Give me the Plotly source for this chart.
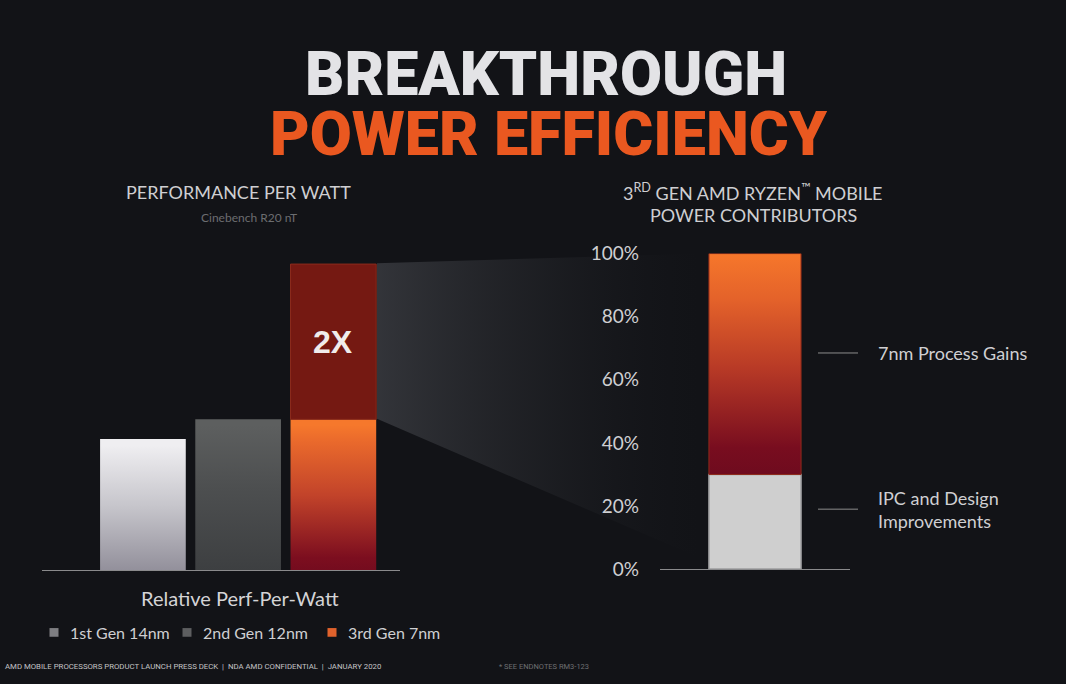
import plotly.graph_objects as go

W, H = 1066, 684

# ---------------- data ----------------
generations = ["1st Gen 14nm", "2nd Gen 12nm", "3rd Gen 7nm"]
perf_per_watt = [0.87, 1.00, 2.03]          # relative perf-per-watt
gen3_base = 1.00                             # orange part of 3rd gen bar (= 2nd gen level)
uplift_label = "2X"

contrib_names = ["IPC and Design<br>Improvements", "7nm Process Gains"]
contrib_values = [30, 70]                    # % of power-efficiency gain
contrib_label_pos = [19, 68.5]               # label heights on the % axis
pct_ticks = [0, 20, 40, 60, 80, 100]
pct_ticktext = ["0%", "20%", "40%", "60%", "80%", "100%"]

BODY = "Lato"
TITLE = "Roboto"
TXT = "#cfcfd2"


def px_x(p):
    return p / W


def px_y(p):
    return 1 - p / H


fig = go.Figure()

# ---------- decoration layer (first subplot, drawn beneath the charts) ----------
fig.add_trace(go.Scatter(
    x=[377, 700, 700, 377, 377], y=[260, 250, 565, 421, 260],
    xaxis="x", yaxis="y", mode="lines", line=dict(width=0),
    fill="toself",
    fillgradient=dict(type="horizontal", start=377, stop=700,
                      colorscale=[[0, "rgba(78,80,86,0.55)"],
                                  [0.5, "rgba(55,57,62,0.30)"],
                                  [1, "rgba(30,32,36,0.0)"]]),
    hoverinfo="skip", showlegend=False))

# ---------- left chart : relative perf-per-watt ----------
half = 0.45
grad = {
    0: [[0, "#8a8793"], [0.55, "#c6c5cb"], [1, "#efeef1"]],
    1: [[0, "#3b3d3f"], [0.6, "#4d4f50"], [1, "#5d5f5f"]],
}
for i in (0, 1):
    v = perf_per_watt[i]
    fig.add_trace(go.Scatter(
        x=[i - half, i + half, i + half, i - half, i - half],
        y=[0, 0, v, v, 0], xaxis="x2", yaxis="y2", mode="lines",
        line=dict(width=0), fill="toself",
        fillgradient=dict(type="vertical", start=0, stop=v, colorscale=grad[i]),
        name=generations[i], hoverinfo="name", showlegend=False))

# 3rd gen: orange base + dark red uplift
fig.add_trace(go.Scatter(
    x=[2 - half, 2 + half, 2 + half, 2 - half, 2 - half],
    y=[0, 0, gen3_base, gen3_base, 0], xaxis="x2", yaxis="y2", mode="lines",
    line=dict(width=0), fill="toself",
    fillgradient=dict(type="vertical", start=0, stop=gen3_base,
                      colorscale=[[0, "#6e0a1e"], [0.15, "#7c0e1f"],
                                  [0.55, "#c2432a"], [0.9, "#ea6a2c"], [1, "#f6782c"]]),
    name=generations[2], hoverinfo="name", showlegend=False))
v3 = perf_per_watt[2]
fig.add_trace(go.Scatter(
    x=[2 - half, 2 + half, 2 + half, 2 - half, 2 - half],
    y=[gen3_base, gen3_base, v3, v3, gen3_base], xaxis="x2", yaxis="y2",
    mode="lines", line=dict(width=1, color="#8a2a1c"), fill="toself",
    fillcolor="#751912", name=generations[2] + " uplift", hoverinfo="name",
    showlegend=False))

# ---------- right chart : power contributors ----------
hw = 0.485
fig.add_trace(go.Scatter(
    x=[-hw, hw, hw, -hw, -hw], y=[0, 0, contrib_values[0], contrib_values[0], 0],
    xaxis="x3", yaxis="y3", mode="lines", line=dict(width=1.5, color="#9d9d9f"),
    fill="toself", fillcolor="#cfcfcf", name="IPC and Design Improvements",
    hoverinfo="name", showlegend=False))
top = contrib_values[0] + contrib_values[1]
fig.add_trace(go.Scatter(
    x=[-hw, hw, hw, -hw, -hw],
    y=[contrib_values[0], contrib_values[0], top, top, contrib_values[0]],
    xaxis="x3", yaxis="y3", mode="lines", line=dict(width=1, color="#8e2a1a"),
    fill="toself",
    fillgradient=dict(type="vertical", start=contrib_values[0], stop=top,
                      colorscale=[[0, "#6c0a1e"], [0.15, "#780d1f"],
                                  [0.5, "#b83a26"], [0.8, "#e4622a"], [1, "#f6772b"]]),
    name="7nm Process Gains", hoverinfo="name", showlegend=False))

annotations = []
shapes = []


def txt(x, y, text, size, color, family=BODY, xanchor="center", weight=None, **kw):
    f = dict(family=family, size=size, color=color)
    if weight:
        f["weight"] = weight
    d = dict(x=x, y=y, xref=kw.pop("xref", "paper"), yref=kw.pop("yref", "paper"),
             text=text, showarrow=False, xanchor=xanchor, yanchor="middle",
             font=f)
    d.update(kw)
    annotations.append(d)


# 2X label
txt(2, (gen3_base + v3) / 2, "<b>" + uplift_label + "</b>", 32, "#f0ecec",
    family="Liberation Sans", xref="x2", yref="y2")

# contributor labels + leader dashes
for name, yv in zip(contrib_names, contrib_label_pos):
    txt(px_x(876), yv, name, 18, TXT, xanchor="left", yref="y3", align="left")
    shapes.append(dict(type="line", xref="paper", yref="y3", x0=px_x(818),
                       x1=px_x(858), y0=yv, y1=yv,
                       line=dict(color="#8c8c8c", width=1)))

# titles & captions
txt(px_x(546), px_y(64), "BREAKTHROUGH", 61, "#e3e3e6", family=TITLE, weight=900)
txt(px_x(549), px_y(126), "POWER EFFICIENCY", 61, "#ea5820", family=TITLE, weight=900)
txt(px_x(238), px_y(186), "PERFORMANCE PER WATT", 18, TXT)
txt(px_x(249), px_y(213), "Cinebench R20 nT", 12, "#6c6d70")
txt(px_x(753), px_y(186), "3<sup>RD</sup> GEN AMD RYZEN<sup>™</sup> MOBILE", 18, TXT)
txt(px_x(753), px_y(210), "POWER CONTRIBUTORS", 18, TXT)
txt(px_x(240), px_y(606), "Relative Perf-Per-Watt", 20, "#d4d4d6")
txt(px_x(3), px_y(677),
    "AMD MOBILE PROCESSORS PRODUCT LAUNCH PRESS DECK  |  NDA AMD CONFIDENTIAL  |  JANUARY 2020",
    7.8, "#c4c4c6", family=TITLE, xanchor="left")
txt(px_x(497), px_y(677), "* SEE ENDNOTES RM3-123", 7.5, "#6e6f72",
    family=TITLE, xanchor="left")

# manual legend
legend_sq = ["#7e7e82", "#5d5e60", "#e0622c"]
legend_x = [54, 187, 332]
for name, col, lx in zip(generations, legend_sq, legend_x):
    shapes.append(dict(type="rect", xref="paper", yref="paper",
                       x0=px_x(lx - 4.5), x1=px_x(lx + 4.5),
                       y0=px_y(646.5), y1=px_y(637.5), fillcolor=col,
                       line=dict(width=0)))
    txt(px_x(lx + 14), px_y(642), name, 16, TXT, xanchor="left")

hidden = dict(visible=False, showgrid=False, zeroline=False, fixedrange=True)

fig.update_layout(
    width=W, height=H,
    margin=dict(l=0, r=0, t=0, b=0),
    paper_bgcolor="#121317", plot_bgcolor="rgba(0,0,0,0)",
    showlegend=False,
    xaxis=dict(domain=[0, 1], range=[0, W], **hidden),
    yaxis=dict(domain=[0, 1], range=[H, 0], **hidden),
    xaxis2=dict(domain=[px_x(42), px_x(400)], range=[-1.06, 2.70], anchor="y2",
                showgrid=False, zeroline=False, showticklabels=False, ticks="",
                showline=True, linecolor="#8a8a8c", linewidth=1),
    yaxis2=dict(domain=[px_y(577.5), px_y(249.9)], range=[0, 2.1], anchor="x2",
                visible=False, showgrid=False, zeroline=False),
    xaxis3=dict(domain=[px_x(660), px_x(850)], range=[-1, 1], anchor="y3",
                showgrid=False, zeroline=False, showticklabels=False, ticks="",
                showline=True, linecolor="#8a8a8c", linewidth=1),
    yaxis3=dict(domain=[px_y(576.5), px_y(250)], range=[0, 100], anchor="x3",
                showgrid=False, zeroline=False, showline=False,
                tickvals=pct_ticks, ticktext=pct_ticktext, ticks="",
                ticklabelstandoff=20,
                tickfont=dict(family=BODY, size=19, color=TXT)),
    annotations=annotations,
    shapes=shapes,
)

fig.write_html("out.html")
